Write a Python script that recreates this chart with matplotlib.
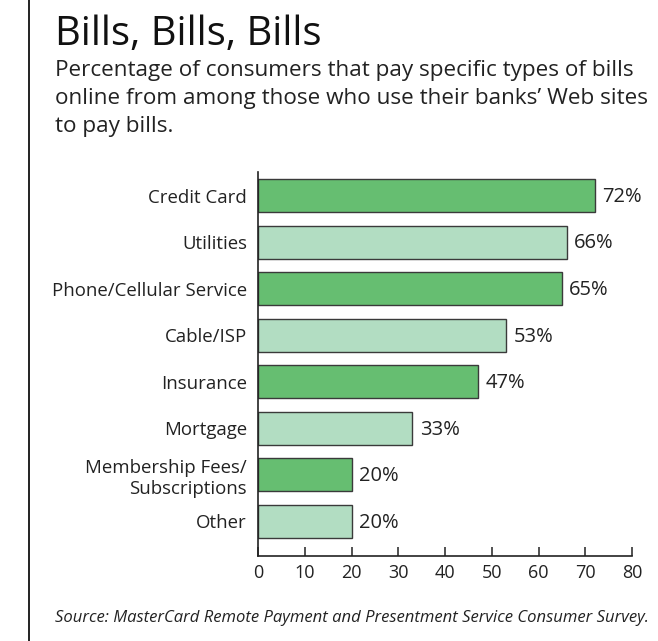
import matplotlib
matplotlib.use("Agg")
import matplotlib.pyplot as plt
from matplotlib.lines import Line2D

plt.rcParams['font.family'] = ['Open Sans', 'DejaVu Sans']

categories = ["Credit Card", "Utilities", "Phone/Cellular Service", "Cable/ISP",
              "Insurance", "Mortgage", "Membership Fees/\nSubscriptions", "Other"]
values = [72, 66, 65, 53, 47, 33, 20, 20]
colors = ["#66BE71", "#B2DDC2"] * 4
xticks = [0, 10, 20, 30, 40, 50, 60, 70, 80]

fig = plt.figure(figsize=(6.58, 6.41), dpi=100)
ax = fig.add_axes([258 / 658, 1 - 556 / 641, 374 / 658, 384 / 641])

pos = list(range(len(categories)))
ax.barh(pos, values, height=0.71, color=colors, edgecolor="#3a3a3a", linewidth=1.0, zorder=2)
for p, v in zip(pos, values):
    ax.text(v + 1.6, p + 0.03, f"{v}%", va="center", ha="left", fontsize=14.5, color="#222222")

ax.set_xlim(0, 80)
ax.set_ylim(7.741, -0.505)
ax.set_xticks(xticks)
ax.set_xticklabels([str(t) for t in xticks], fontsize=13, color="#222222")
ax.set_yticks(pos)
ax.set_yticklabels(categories, fontsize=13.4, color="#222222", linespacing=1.25)
ax.tick_params(axis="y", length=0, pad=8)
ax.tick_params(axis="x", direction="in", length=6.5, width=1.1, color="#222222", pad=6)
for s in ["top", "right"]:
    ax.spines[s].set_visible(False)
for s in ["left", "bottom"]:
    ax.spines[s].set_linewidth(1.2)
    ax.spines[s].set_color("#222222")

fig.add_artist(Line2D([29 / 658, 29 / 658], [0, 1], color="#111111", linewidth=1.3))

fig.text(55 / 658, 1 - 45 / 641, "Bills, Bills, Bills", fontsize=28.8, color="#111111",
         ha="left", va="baseline")
subtitle = ["Percentage of consumers that pay specific types of bills",
            "online from among those who use their banks\u2019 Web sites",
            "to pay bills."]
for i, line in enumerate(subtitle):
    fig.text(55 / 658, 1 - (76 + 28 * i) / 641, line, fontsize=16.2, color="#222222",
             ha="left", va="baseline")

fig.text(55 / 658, 1 - 618 / 641, "Source: MasterCard Remote Payment and Presentment Service Consumer Survey.",
         fontsize=12, style="italic", color="#222222", ha="left", va="center")

fig.savefig("out.png", dpi=100)
